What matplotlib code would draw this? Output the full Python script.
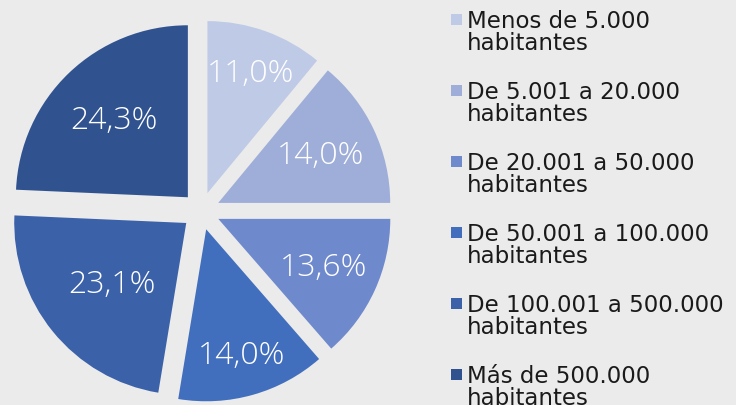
import numpy as np
from matplotlib import pyplot as plt
from matplotlib.patches import Rectangle

categories = ['Menos de 5.000\nhabitantes',
              'De 5.001 a 20.000\nhabitantes',
              'De 20.001 a 50.000\nhabitantes',
              'De 50.001 a 100.000\nhabitantes',
              'De 100.001 a 500.000\nhabitantes',
              'Más de 500.000\nhabitantes']
shares = [11.0, 14.0, 13.6, 14.0, 23.1, 24.3]
colors = ['#bfcae6', '#9eaed9', '#6e89cc', '#416fbd', '#3b61a9', '#305390']
label_r = [0.74, 0.66, 0.67, 0.76, 0.56, 0.62]

W, H = 736, 406
fig = plt.figure(figsize=(W / 100, H / 100), dpi=100)
fig.patch.set_facecolor('#ebebeb')
ax = fig.add_axes([0, 0, 1, 1])
ax.set_facecolor('#ebebeb')

R = 172
cx, cy = 201, H - 212
# explode is in data units here (pie radius is in pixels)
wedges, _ = ax.pie(shares, colors=colors, startangle=90, counterclock=False,
                   explode=[19] * len(shares), radius=R, center=(cx, cy),
                   frame=True, wedgeprops=dict(linewidth=0))

for w, v, r in zip(wedges, shares, label_r):
    mid = np.deg2rad((w.theta1 + w.theta2) / 2)
    x0, y0 = w.center
    ax.text(x0 + r * R * np.cos(mid), y0 + r * R * np.sin(mid),
            f'{v:.1f}%'.replace('.', ','), color='white', fontsize=23,
            family='Open Sans', weight='light', ha='center', va='center')

# legend drawn by hand so the square sits on the first line
for i, (lab, c) in enumerate(zip(categories, colors)):
    ytop = H - 15 - 71 * i
    ax.add_patch(Rectangle((451, ytop - 11), 11, 11, color=c, lw=0))
    for j, line in enumerate(lab.split('\n')):
        ax.text(467, H - 28 - 71 * i - 22 * j, line, fontsize=16.5,
                color='#1a1a1a', family='DejaVu Sans', va='baseline', ha='left')

ax.set_xlim(0, W)
ax.set_ylim(0, H)
ax.set_aspect('equal')
ax.axis('off')
fig.savefig('out.png', dpi=100, facecolor=fig.get_facecolor())
